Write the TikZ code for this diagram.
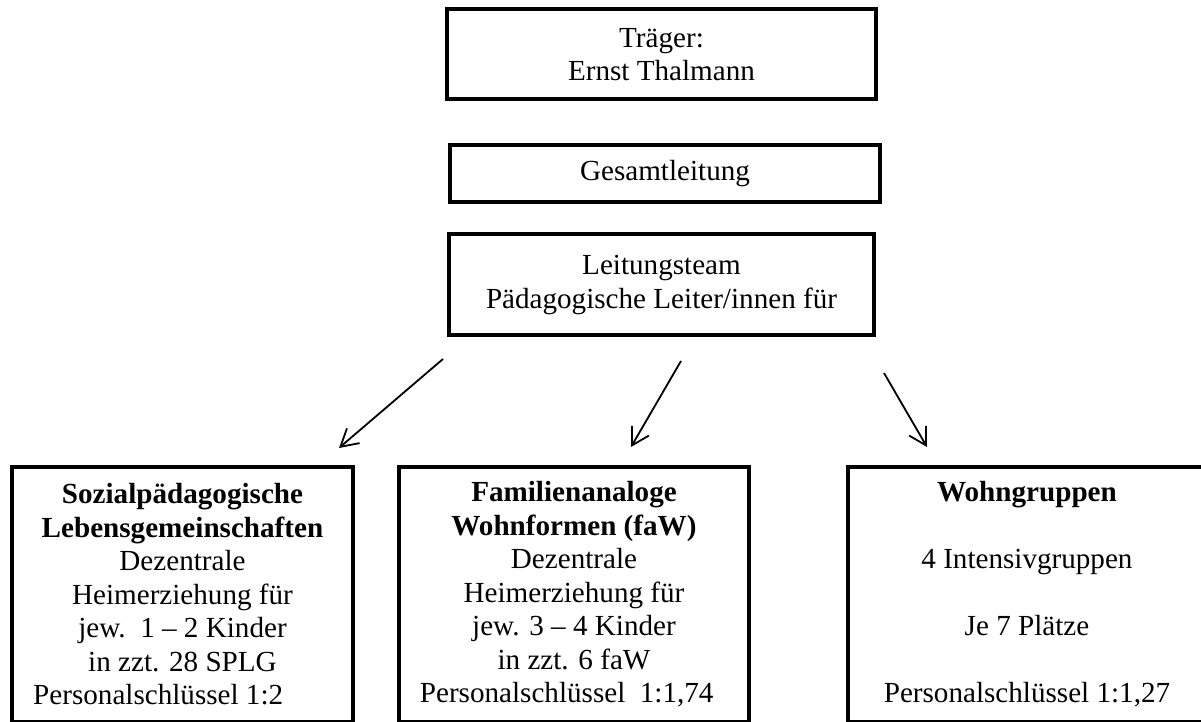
\documentclass[tikz,border=0pt]{standalone}
\usepackage{fontspec}
\setmainfont{Liberation Serif}
\usetikzlibrary{arrows.meta}
\newcommand{\pxu}{0.412pt}
\begin{document}
\begin{tikzpicture}[x=\pxu,y=-\pxu,
		box/.style={draw,line width=1.65pt,align=center,inner sep=0pt,font=\fontsize{12}{13.8}\selectfont},
		pfeil/.style={-{Straight Barb[length=7pt,width=8pt]},line width=0.75pt}]
		\useasboundingbox (0,0) rectangle (1201,722);
		\clip (0,0) rectangle (1201,722);
		% oben
		\node[box,minimum width=429*\pxu,minimum height=90*\pxu] (traeger) at (661.5,54.5) {Träger:\\Ernst Thalmann};
		\node[box,minimum width=430.5*\pxu,minimum height=57*\pxu] (gesamt) at (665,174) {Gesamtleitung};
		\node[box,minimum width=425*\pxu,minimum height=101*\pxu] (leitung) at (661.5,285) {Leitungsteam\\Pädagogische Leiter/innen für};
		% unten
		\node[box,minimum width=341*\pxu,minimum height=255*\pxu] (splg) at (182.5,594.5) {\textbf{Sozialpädagogische}\\\textbf{Lebensgemeinschaften}\\Dezentrale\hspace*{8pt}\\Heimerziehung für\\jew.\ \ 1 – 2 Kinder\\in zzt. 28 SPLG\\Personalschlüssel 1:2\hspace*{20pt}};
		\node[box,minimum width=350.5*\pxu,minimum height=255*\pxu] (faw) at (574,594.5) {\textbf{Familienanaloge}\\\textbf{Wohnformen (faW)}\\Dezentrale\\Heimerziehung für\\jew. 3 – 4 Kinder\\in zzt. 6 faW\\Personalschlüssel\ \ 1:1,74\hspace*{6pt}};
		\node[box,minimum width=358*\pxu,minimum height=255*\pxu] (wg) at (1027,594.5) {\textbf{Wohngruppen}\\[13.8pt]4 Intensivgruppen\\[13.8pt]Je 7 Plätze\\[13.8pt]Personalschlüssel 1:1,27};
		% Pfeile
		\coordinate (p1a) at (443,359);
		\coordinate (p1b) at (339,448);
		\coordinate (p2a) at (681,361);
		\coordinate (p2b) at (631,447);
		\coordinate (p3a) at (884,373);
		\coordinate (p3b) at (927,447);
		\draw[pfeil] (p1a) -- (p1b);
		\draw[pfeil] (p2a) -- (p2b);
		\draw[pfeil] (p3a) -- (p3b);
		\end{tikzpicture}
\end{document}
